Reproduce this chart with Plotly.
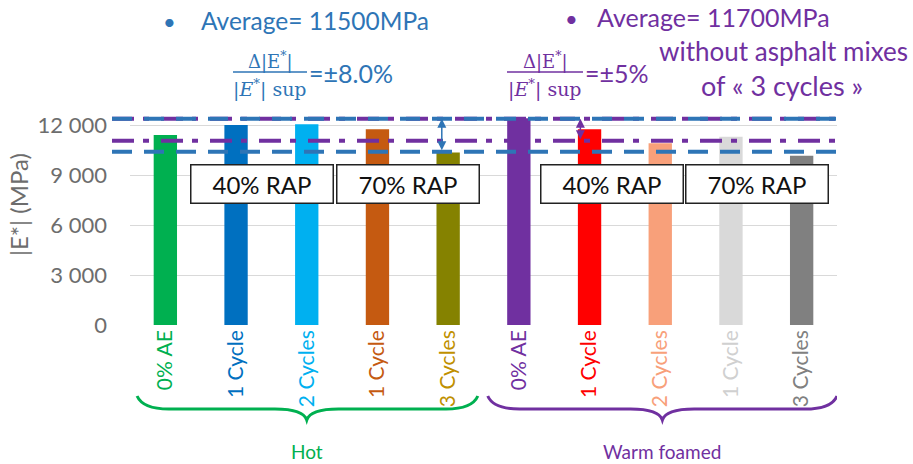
import plotly.graph_objects as go

# ---------------- data ----------------
categories = ["0% AE", "1 Cycle", "2 Cycles", "1 Cycle", "3 Cycles",
              "0% AE", "1 Cycle", "2 Cycles", "1 Cycle", "3 Cycles"]
modulus = [11400, 12000, 12050, 11750, 10350,
           12400, 11750, 10900, 11300, 10150]
bar_colors = ["#00B050", "#0070C0", "#00B0F0", "#C55A11", "#858200",
              "#7030A0", "#FF0000", "#F8A07A", "#D9D9D9", "#808080"]
label_colors = ["#00B050", "#0070C0", "#00B0F0", "#C55A11", "#BF9000",
                "#7030A0", "#FF0000", "#F8A07A", "#D0D0D0", "#808080"]
y_ticks = [0, 3000, 6000, 9000, 12000]
y_tick_labels = ["0", "3 000", "6 000", "9 000", "12 000"]
hot_band = [10400, 12380]     # blue dashed limits
warm_band = [11050, 12380]    # purple dash-dot limits
groups = ["Hot", "Warm foamed"]
rap_labels = ["40% RAP", "70% RAP", "40% RAP", "70% RAP"]
hot_avg_text = "Average= 11500MPa"
warm_avg_text = "Average= 11700MPa"
hot_dev_text = "=±8.0%"
warm_dev_text = "=±5%"

BLUE = "#2E75B6"
PURPLE = "#7030A0"
GREEN = "#00B050"
FONT = "Lato"
SERIF = "DejaVu Serif"

# plot area in pixels
L, R, T, B = 130, 837, 115, 325
W, H = 913, 464


def px_x(p):
    return (p - L) / (R - L)


def px_y(p):
    return (B - p) / (B - T)


x_idx = list(range(len(categories)))

fig = go.Figure()
fig.add_trace(go.Bar(
    x=x_idx, y=modulus, marker_color=bar_colors, width=0.33,
    marker_line_width=0, showlegend=False, hoverinfo="skip"))

shapes = []
# reference lines (purple first, blue on top)
for v in warm_band:
    shapes.append(dict(type="line", xref="paper", yref="y",
                       x0=px_x(112), x1=px_x(840), y0=v, y1=v,
                       line=dict(color=PURPLE, width=4, dash="22px,9px,6px,12px")))
for v in hot_band:
    shapes.append(dict(type="line", xref="paper", yref="y",
                       x0=px_x(112), x1=px_x(840), y0=v, y1=v,
                       line=dict(color=BLUE, width=4, dash="20px,12px")))

# fraction bars
shapes.append(dict(type="line", xref="paper", yref="paper",
                   x0=px_x(233), x1=px_x(307), y0=px_y(72), y1=px_y(72),
                   line=dict(color=BLUE, width=1.5)))
shapes.append(dict(type="line", xref="paper", yref="paper",
                   x0=px_x(507), x1=px_x(583), y0=px_y(72), y1=px_y(72),
                   line=dict(color=PURPLE, width=1.5)))


def brace(x0, x1, tip, color):
    y0, y1, y2 = px_y(396), px_y(409), px_y(420)
    path = (f"M {x0},{y0} Q {x0 + 0.08},{y1} {x0 + 0.45},{y1} "
            f"L {tip - 0.45},{y1} Q {tip - 0.05},{y1} {tip},{y2} "
            f"Q {tip + 0.05},{y1} {tip + 0.45},{y1} "
            f"L {x1 - 0.45},{y1} Q {x1 - 0.08},{y1} {x1},{y0}")
    return dict(type="path", xref="x", yref="paper", path=path,
                line=dict(color=color, width=3))


shapes.append(brace(-0.40, 4.42, 2.0, GREEN))
shapes.append(brace(4.56, 9.5, 7.03, PURPLE))

annotations = []


def txt(x, y, text, size, color, family=FONT, xanchor="center", xref="paper", **kw):
    annotations.append(dict(x=x, y=y, xref=xref, yref="paper", text=text,
                            showarrow=False, xanchor=xanchor, yanchor="middle",
                            font=dict(family=family, size=size, color=color), **kw))


# double arrows
annotations.append(dict(x=3.91, y=hot_band[1], ax=3.91, ay=hot_band[0],
                        xref="x", yref="y", axref="x", ayref="y", text="",
                        showarrow=True, arrowside="end+start", arrowhead=2,
                        arrowsize=1.2, arrowwidth=1.5, arrowcolor=BLUE))
annotations.append(dict(x=5.87, y=warm_band[1], ax=5.87, ay=warm_band[0],
                        xref="x", yref="y", axref="x", ayref="y", text="",
                        showarrow=True, arrowside="end+start", arrowhead=2,
                        arrowsize=1.2, arrowwidth=1.5, arrowcolor=PURPLE))

# RAP boxes
for xpos, label in zip([1.36, 3.43, 6.32, 8.37], rap_labels):
    annotations.append(dict(x=xpos, y=8450, xref="x", yref="y", text=label,
                            showarrow=False, xanchor="center", yanchor="middle",
                            width=137, height=33, borderpad=2,
                            bgcolor="white", bordercolor="#222222", borderwidth=1.5,
                            font=dict(family=FONT, size=24, color="#111111")))

# y axis title
txt(px_x(18), px_y(205), "|E*| (MPa)", 24, "#6d6d6d", textangle=-90)

# group labels
txt(2.0, px_y(451), groups[0], 19, GREEN, xref="x")
txt(7.03, px_y(451), groups[1], 19, PURPLE, xref="x")

# top texts
txt(px_x(169), px_y(21), "•", 22, BLUE)
txt(px_x(199), px_y(20), hot_avg_text, 24.5, BLUE, xanchor="left")
txt(px_x(571), px_y(18), "•", 22, PURPLE)
txt(px_x(595), px_y(17), warm_avg_text, 25, PURPLE, xanchor="left")

# blue fraction
txt(px_x(270), px_y(60), "Δ|E<sup>*</sup>|", 18, BLUE, family=SERIF)
txt(px_x(270), px_y(88), "|<i>E</i><sup>*</sup>| sup", 19, BLUE, family=SERIF)
txt(px_x(307), px_y(73), hot_dev_text, 25, BLUE, xanchor="left")
# purple fraction
txt(px_x(545), px_y(60), "Δ|E<sup>*</sup>|", 18, PURPLE, family=SERIF)
txt(px_x(545), px_y(88), "|<i>E</i><sup>*</sup>| sup", 19, PURPLE, family=SERIF)
txt(px_x(583), px_y(73), warm_dev_text, 25, PURPLE, xanchor="left")
txt(px_x(783), px_y(51), "without asphalt mixes", 26, PURPLE)
txt(px_x(782), px_y(85), "of « 3 cycles »", 27, PURPLE)

tick_text = [f'<span style="color:{c}">{t}</span>' for t, c in zip(categories, label_colors)]

fig.update_layout(
    width=W, height=H,
    margin=dict(l=L, r=W - R, t=T, b=H - B),
    paper_bgcolor="white", plot_bgcolor="white",
    font=dict(family=FONT),
    shapes=shapes, annotations=annotations,
    bargap=0.67,
    xaxis=dict(range=[-0.5, 9.5], tickmode="array", tickvals=x_idx, ticktext=tick_text,
               tickangle=-90, tickfont=dict(family=FONT, size=21),
               showgrid=False, zeroline=False, showline=False, automargin=False,
               fixedrange=True),
    yaxis=dict(range=[0, 12600], tickmode="array", tickvals=y_ticks,
               ticktext=y_tick_labels, tickfont=dict(family=FONT, size=22, color="#6d6d6d"),
               showgrid=True, gridcolor="#D9D9D9", gridwidth=1.2,
               zeroline=False, showline=False, ticklabelstandoff=22,
               automargin=False, fixedrange=True),
)

fig.write_html("out.html", config={"displayModeBar": False},
               post_script="document.body.style.margin='0';")
